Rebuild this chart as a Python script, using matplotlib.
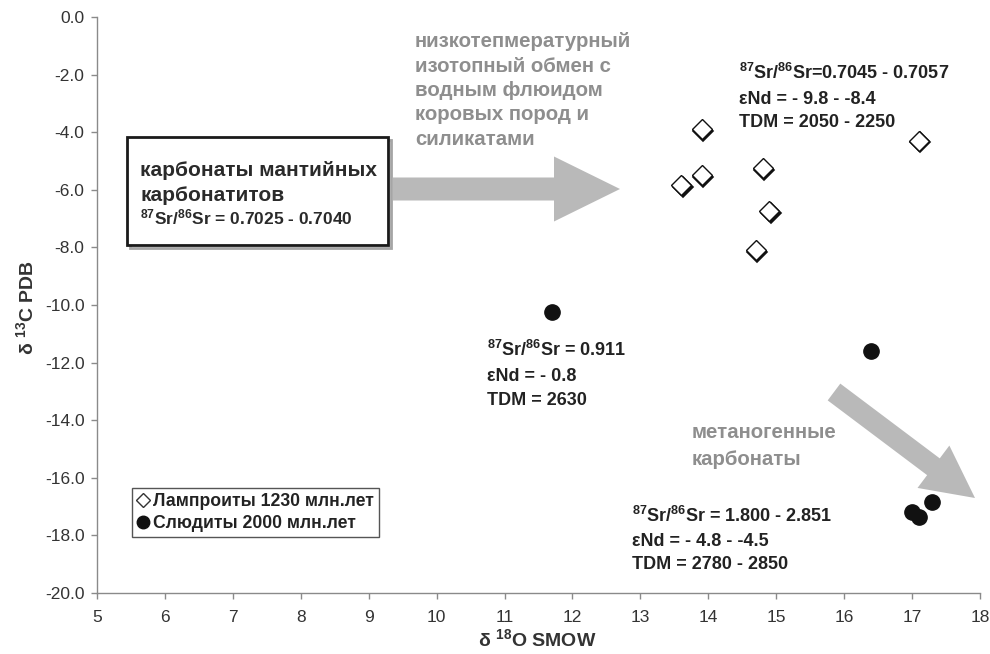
import matplotlib
matplotlib.use("Agg")
import matplotlib.pyplot as plt
from matplotlib.patches import Polygon, Rectangle
from matplotlib.lines import Line2D
from matplotlib.ticker import FormatStrFormatter, MultipleLocator
from matplotlib.transforms import offset_copy
import numpy as np

plt.rcParams['font.family'] = ['Liberation Sans', 'DejaVu Sans']
plt.rcParams['mathtext.fontset'] = 'custom'
plt.rcParams['mathtext.rm'] = 'Liberation Sans:bold'
plt.rcParams['mathtext.it'] = 'Liberation Sans:bold:italic'
plt.rcParams['mathtext.bf'] = 'Liberation Sans:bold'
plt.rcParams['axes.unicode_minus'] = False

# ---- data ----
lamp_x = [13.9, 17.1, 13.9, 13.6, 14.8, 14.9, 14.7]
lamp_y = [-3.9, -4.3, -5.5, -5.85, -5.25, -6.75, -8.1]
mica_x = [11.7, 16.4, 17.3, 17.0, 17.1]
mica_y = [-10.25, -11.6, -16.85, -17.2, -17.35]

lamp_label = "Лампроиты 1230 млн.лет"
mica_label = "Слюдиты 2000 млн.лет"
xlabel = r"δ $^{18}$O SMOW"
ylabel = r"δ $^{13}$C PDB"

box_lines = ["карбонаты мантийных", "карбонатитов", r"$^{87}$Sr/$^{86}$Sr = 0.7025 - 0.7040"]
gray_lines = ["низкотепмературный", "изотопный обмен с", "водным флюидом", "коровых пород и", "силикатами"]
lamp_info = [r"$^{87}$Sr/$^{86}$Sr=0.7045 - 0.7057", "εNd = - 9.8 - -8.4", "TDM = 2050 - 2250"]
mica1_info = [r"$^{87}$Sr/$^{86}$Sr = 0.911", "εNd = - 0.8", "TDM = 2630"]
mica2_info = [r"$^{87}$Sr/$^{86}$Sr = 1.800 - 2.851", "εNd = - 4.8 - -4.5", "TDM = 2780 - 2850"]
metan_lines = ["метаногенные", "карбонаты"]

W, H = 990, 654
fig = plt.figure(figsize=(W/100, H/100), dpi=100)
AX_L, AX_R, AX_T, AX_B = 97, 980, 17, 593
ax = fig.add_axes([AX_L/W, 1-AX_B/H, (AX_R-AX_L)/W, (AX_B-AX_T)/H])

def P(px, py):
    return ((px-AX_L)/(AX_R-AX_L), (AX_B-py)/(AX_B-AX_T))

ax.set_xlim(5, 18)
ax.set_ylim(-20, 0)
ax.xaxis.set_major_locator(MultipleLocator(1))
ax.yaxis.set_major_locator(MultipleLocator(2))
ax.yaxis.set_major_formatter(FormatStrFormatter('%.1f'))
for s in ['top', 'right']:
    ax.spines[s].set_visible(False)
for s in ['left', 'bottom']:
    ax.spines[s].set_color('#8a8a8a')
    ax.spines[s].set_linewidth(1.0)
ax.tick_params(direction='out', length=4, width=1, color='#8a8a8a',
               labelsize=12.5, labelcolor='#333333')
ax.tick_params(axis='y', pad=5)
ax.tick_params(axis='x', pad=8)

ax.set_xlabel(xlabel, fontsize=14, fontweight='bold', color='#333333')
ax.set_ylabel(ylabel, fontsize=14, fontweight='bold', color='#333333')
ax.xaxis.set_label_coords(*P(537, 646))
ax.xaxis.label.set_va('baseline')
ax.yaxis.set_label_coords(-0.068, 0.495)

# ---- markers ----
shadow = offset_copy(ax.transData, fig=fig, x=1.6, y=-1.6, units='dots')
ax.plot(lamp_x, lamp_y, ls='none', marker='D', ms=10.5, mfc='#111111', mec='#111111',
        mew=1.2, transform=shadow, zorder=4)
ax.plot(lamp_x, lamp_y, ls='none', marker='D', ms=10.5, mfc='white', mec='#111111',
        mew=1.0, zorder=5)
ax.plot(mica_x, mica_y, ls='none', marker='o', ms=11, mfc='#111111', mec='#111111', zorder=5)

# ---- arrows ----
def arrow_poly(x0, y0, x1, y1, shaft_w, head_w, head_len, color):
    d = np.array([x1-x0, y1-y0], float)
    L = np.hypot(*d)
    u = d / L
    n = np.array([-u[1], u[0]])
    p0 = np.array([x0, y0], float)
    pb = p0 + u*(L-head_len)
    pts = [p0 + n*shaft_w/2, pb + n*shaft_w/2, pb + n*head_w/2, np.array([x1, y1], float),
           pb - n*head_w/2, pb - n*shaft_w/2, p0 - n*shaft_w/2]
    pts = [P(*p) for p in pts]
    ax.add_patch(Polygon(pts, closed=True, transform=ax.transAxes, facecolor=color,
                         edgecolor='none', clip_on=False, zorder=2))

arrow_poly(393, 189, 620, 189, 23, 65, 66, '#b9b9b9')
arrow_poly(834, 392, 975, 498, 21, 53, 52, '#b9b9b9')

# ---- box ----
bx0, by0, bx1, by1 = 127, 137, 388, 245
x0, y0 = P(bx0, by1)
x1, y1 = P(bx1, by0)
sx, sy = 3/(AX_R-AX_L), 3/(AX_B-AX_T)
ax.add_patch(Rectangle((x0+sx, y0-sy), x1-x0, y1-y0, transform=ax.transAxes,
                       facecolor='none', edgecolor='#a5a5a5', lw=2, clip_on=False, zorder=3))
ax.add_patch(Rectangle((x0, y0), x1-x0, y1-y0, transform=ax.transAxes,
                       facecolor='white', edgecolor='#1a1a1a', lw=2, clip_on=False, zorder=3))

def lines(px, pys, texts, size, color):
    for py, t in zip(pys, texts):
        ax.text(*P(px, py), t, transform=ax.transAxes, fontsize=size, fontweight='bold',
                color=color, va='baseline', ha='left', zorder=6)

lines(140, [176, 201], box_lines[:2], 15, '#2a2a2a')
lines(140, [224], box_lines[2:], 12.5, '#2a2a2a')
lines(415, [47, 72, 96, 120, 145], gray_lines, 14.7, '#8e8e8e')
lines(739, [79, 104, 127], lamp_info, 13, '#222222')
lines(487, [356, 381, 405], mica1_info, 13, '#222222')
lines(692, [438, 465], metan_lines, 14.7, '#8e8e8e')
lines(632, [522, 546, 569], mica2_info, 13, '#222222')

# ---- legend ----
handles = [Line2D([], [], ls='none', marker='D', ms=7, mfc='white', mec='#333333', mew=1.0),
           Line2D([], [], ls='none', marker='o', ms=9, mfc='#111111', mec='#111111')]
leg = ax.legend(handles, [lamp_label, mica_label], loc='upper left',
                bbox_to_anchor=P(132, 488), bbox_transform=ax.transAxes,
                prop={'size': 12.7, 'weight': 'bold'}, frameon=True, fancybox=False,
                edgecolor='#555555', handlelength=0.6, handletextpad=0.3,
                borderpad=0.3, labelspacing=0.25, borderaxespad=0, framealpha=1)
leg.get_frame().set_linewidth(1.0)
for t in leg.get_texts():
    t.set_color('#222222')

fig.savefig('out.png', dpi=100)
